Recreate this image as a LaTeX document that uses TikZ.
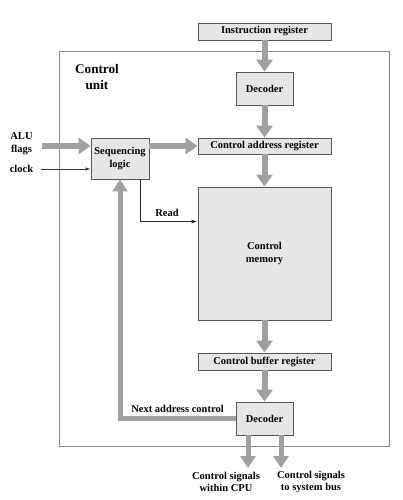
\documentclass[tikz,border=0pt]{standalone}
\usepackage{fontspec}
\setmainfont{Liberation Serif}
\usetikzlibrary{arrows.meta}
\definecolor{boxfill}{HTML}{E6E6E6}
\definecolor{boxline}{HTML}{555555}
\definecolor{arrgray}{HTML}{A0A0A0}
\definecolor{outerline}{HTML}{8A8A8A}
\begin{document}
\begin{tikzpicture}[x=1pt,y=-1pt,
  box/.style={draw=boxline,fill=boxfill,line width=0.9pt,inner sep=0pt,align=center,font=\fontsize{10.5}{12.5}\selectfont\bfseries},
  lbl/.style={inner sep=0pt,align=center,font=\fontsize{10.5}{12.5}\selectfont\bfseries},
  bigarrow/.style={draw=arrgray,line width=6pt,-{Triangle[width=16pt,length=12pt]},color=arrgray},
  medarrow/.style={draw=arrgray,line width=5pt,-{Triangle[width=15pt,length=12pt]},color=arrgray},
  thinarrow/.style={draw=black!80,line width=0.6pt,-{Latex[length=5pt,width=3.5pt]}},
  readarrow/.style={draw=black!85,line width=1.1pt,-{Latex[length=6pt,width=4pt]}}]
\useasboundingbox (0,0) rectangle (402,500);
\node[draw=outerline,line width=0.9pt,minimum width=330pt,minimum height=395pt,inner sep=0pt] (outer) at (224,248.5) {};
\node[lbl,font=\fontsize{13.2}{16}\selectfont\bfseries] (cu) at (97,77) {Control\\unit};
\node[box,minimum width=133pt,minimum height=17pt] (ir) at (264.5,31.5) {Instruction register};
\node[box,minimum width=57pt,minimum height=33pt] (dec1) at (264.5,88.5) {Decoder};
\node[box,minimum width=133pt,minimum height=16pt] (car) at (264.5,146) {Control address register};
\node[box,minimum width=58pt,minimum height=41pt] (seq) at (120,158.5) {Sequencing\\logic};
\node[box,minimum width=133pt,minimum height=133pt] (cm) at (264.5,253.5) {Control\\memory};
\node[box,minimum width=133pt,minimum height=17pt] (cbr) at (264.5,361.5) {Control buffer register};
\node[box,minimum width=57pt,minimum height=33pt] (dec2) at (264.5,418.5) {Decoder};
\node[lbl] (alu) at (21.5,143.5) {ALU\\flags};
\node[lbl] (clk) at (21.5,169) {clock};
\node[lbl] (read) at (167,213) {Read};
\node[lbl] (nac) at (177.5,409) {Next address control};
\node[lbl] (out1) at (226,482) {Control signals\\within CPU};
\node[lbl] (out2) at (311,482) {Control signals\\to system bus};
\coordinate (alustart) at (42,146);
\coordinate (clkstart) at (41,169);
\coordinate (o1) at (248,468);
\coordinate (o2) at (281,468);
% main column
\draw[bigarrow] (ir) -- (dec1);
\draw[bigarrow] (dec1) -- (car);
\draw[bigarrow] (car) -- (cm);
\draw[bigarrow] (cm) -- (cbr);
\draw[bigarrow] (cbr) -- (dec2);
% inputs
\draw[bigarrow] (alustart) -- (alustart -| seq.west);
\draw[thinarrow] (clkstart) -- (clkstart -| seq.west);
\draw[bigarrow] (seq.east |- car.west) -- (car.west);
% read
\draw[readarrow] ([xshift=-9pt]seq.south east) |- ([yshift=-35pt]cm.north west);
% feedback
\draw[medarrow] (dec2.west) -- (dec2.west -| seq.south) -- (seq.south);
% outputs
\draw[medarrow] (dec2.south -| o1) -- (o1);
\draw[medarrow] (dec2.south -| o2) -- (o2);
\end{tikzpicture}
\end{document}
